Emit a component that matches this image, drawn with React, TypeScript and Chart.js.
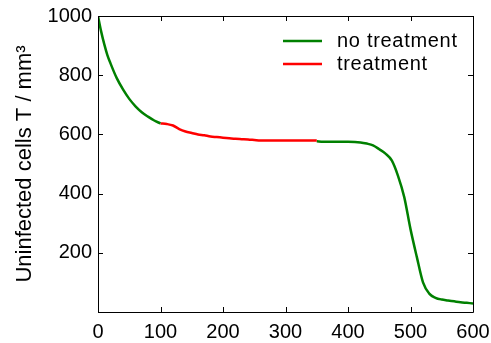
import React, { useEffect, useRef } from "react";
import { Chart, registerables } from "chart.js";

Chart.register(...registerables);

const noTreat1X = [0, 5, 10, 15, 20, 30, 40, 50, 60, 70, 80, 90, 100];
const noTreat1Y = [1000, 948, 905, 868, 840, 790, 752, 720, 695, 675, 660, 647, 637];

const treatX = [100, 110, 120, 130, 140, 150, 160, 170, 180, 190, 200, 210, 220, 230, 240, 250, 260, 280, 300, 320, 350];
const treatY = [637, 635, 630, 618, 610, 605, 600, 597, 593, 591, 589, 587, 585, 584, 583, 581, 579, 579, 579, 579, 579];

const noTreat2X = [350, 360, 380, 400, 420, 430, 440, 450, 460, 470, 480, 490, 500, 510, 520, 530, 540, 550, 560, 570, 580, 590, 600];
const noTreat2Y = [577, 575, 575, 575, 573, 569, 563, 550, 535, 512, 460, 388, 280, 187, 100, 62, 48, 42, 39, 36, 33, 31, 29];

const xTicks = [0, 100, 200, 300, 400, 500, 600];
const yTicks = [0, 200, 400, 600, 800, 1000];

const GREEN = "#008000";
const RED = "#ff0000";
const FONT = "'Liberation Sans', Arial, sans-serif";

const pts = (xs: number[], ys: number[]) => xs.map((x, i) => ({ x, y: ys[i] }));

const boxPlugin = {
  id: "boxTicks",
  afterDraw(chart: any) {
    const { ctx, chartArea, scales } = chart;
    const { left, right, top, bottom } = chartArea;
    ctx.save();
    ctx.strokeStyle = "#000";
    ctx.lineWidth = 1;
    ctx.beginPath();
    ctx.rect(left + 0.5, top + 0.5, right - left, bottom - top);
    ctx.stroke();
    const L = 5;
    ctx.beginPath();
    xTicks.forEach((v) => {
      const px = Math.round(scales.x.getPixelForValue(v)) + 0.5;
      ctx.moveTo(px, bottom);
      ctx.lineTo(px, bottom - L);
      ctx.moveTo(px, top);
      ctx.lineTo(px, top + L);
    });
    yTicks.forEach((v) => {
      const py = Math.round(scales.y.getPixelForValue(v)) + 0.5;
      ctx.moveTo(left, py);
      ctx.lineTo(left + L, py);
      ctx.moveTo(right, py);
      ctx.lineTo(right - L, py);
    });
    ctx.stroke();

    // legend
    const entries = [
      { label: chart.data.datasets[0].label, color: chart.data.datasets[0].borderColor },
      { label: chart.data.datasets[1].label, color: chart.data.datasets[1].borderColor },
    ];
    ctx.font = `20px ${FONT}`;
    try { (ctx as any).letterSpacing = "0.7px"; } catch (e) {}
    ctx.textBaseline = "middle";
    ctx.textAlign = "left";
    entries.forEach((e, i) => {
      const y = 41 + i * 23;
      ctx.strokeStyle = e.color;
      ctx.lineWidth = 2.5;
      ctx.beginPath();
      ctx.moveTo(283, y);
      ctx.lineTo(322, y);
      ctx.stroke();
      ctx.fillStyle = "#000";
      ctx.fillText(e.label, 337, y);
    });
    ctx.restore();
  },
};

export default function App() {
  const ref = useRef<HTMLCanvasElement>(null);
  useEffect(() => {
    if (!ref.current) return;
    const common = { borderWidth: 2.5, pointRadius: 0, cubicInterpolationMode: "monotone" as const };
    const chart = new Chart(ref.current, {
      type: "line",
      data: {
        datasets: [
          { label: "no treatment", data: pts(noTreat1X, noTreat1Y), borderColor: GREEN, ...common },
          { label: "treatment", data: pts(treatX, treatY), borderColor: RED, ...common },
          { label: "no treatment ", data: pts(noTreat2X, noTreat2Y), borderColor: GREEN, ...common },
        ],
      },
      options: {
        responsive: false,
        animation: false,
        layout: { padding: { left: 0, top: 16, right: 18, bottom: 0 } },
        plugins: { legend: { display: false }, tooltip: { enabled: false } },
        scales: {
          x: {
            type: "linear",
            min: 0,
            max: 600,
            afterFit: (s: any) => { s.height = 31; s.paddingLeft = 0; s.paddingRight = 0; },
            afterBuildTicks: (s: any) => { s.ticks = xTicks.map((v) => ({ value: v })); },
            grid: { display: false, drawTicks: false },
            border: { display: false },
            ticks: { color: "#000", font: { family: FONT, size: 20 }, padding: 8, maxRotation: 0, autoSkip: false },
          },
          y: {
            type: "linear",
            min: 0,
            max: 1000,
            afterFit: (s: any) => { s.width = 98; s.paddingTop = 0; s.paddingBottom = 0; },
            afterBuildTicks: (s: any) => { s.ticks = yTicks.map((v) => ({ value: v })); },
            grid: { display: false, drawTicks: false },
            border: { display: false },
            ticks: {
              color: "#000",
              font: { family: FONT, size: 20 },
              padding: 6,
              callback: (v: any) => (v === 0 ? "" : String(v)),
            },
            title: {
              display: true,
              text: "Uninfected cells T / mm³",
              color: "#000",
              font: { family: FONT, size: 22 },
              padding: { top: 12, bottom: 0 },
            },
          },
        },
      },
      plugins: [boxPlugin],
    });
    return () => chart.destroy();
  }, []);
  return (
    <div style={{ position: "fixed", left: 0, top: 0, width: 491, height: 343, background: "#fff" }}>
      <canvas ref={ref} width={491} height={343} />
    </div>
  );
}
